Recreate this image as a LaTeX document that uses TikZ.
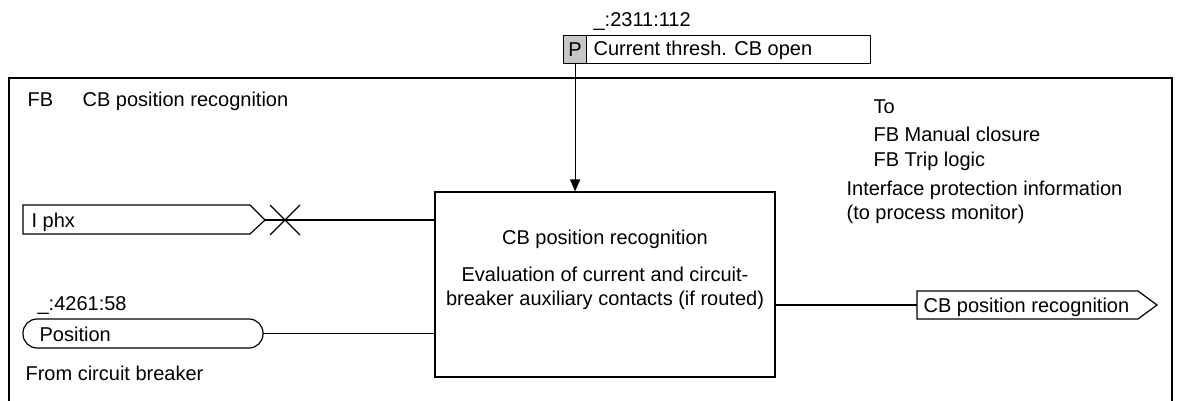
\documentclass[tikz,border=0pt]{standalone}
\usepackage{fontspec}
\setmainfont{Liberation Sans}
\usetikzlibrary{arrows.meta}
\begin{document}
\begin{tikzpicture}[x=1pt,y=-1pt, line width=1.2pt,
  txt/.style={anchor=base west, inner sep=0pt, font=\fontsize{20}{24}\selectfont},
  ctxt/.style={anchor=base, inner sep=0pt, font=\fontsize{20}{24}\selectfont},
  box/.style={draw, inner sep=0pt, anchor=north west}]
\useasboundingbox (0,0) rectangle (1178,401);
% frame
\draw (9,410) |- (1172,78) -- (1172,410);
\node[txt] (fb) at (27,107) {FB};
\node[txt] (fbname) at (82,107) {CB position recognition};
% main block
\node[draw, minimum width=340pt, minimum height=185pt, inner sep=0pt] (block) at (605,284.5) {};
\node[ctxt] (btitle) at (605,244) {CB position recognition};
\node[ctxt] (bl1) at (605,281) {Evaluation of current and circuit-};
\node[ctxt] (bl2) at (605,305) {breaker auxiliary contacts (if routed)};
% parameter
\node[txt] (paddr) at (593,27) {\_:2311:112};
\node[box, fill=black!22, minimum width=23pt, minimum height=28pt, font=\fontsize{20}{24}\selectfont] (pp) at (563,35) {P};
\node[box, minimum width=284pt, minimum height=28pt] (pbox) at (586,35) {};
\node[txt] (ptxt) at (593,56) {Current thresh. CB open};
\draw[-{Triangle[length=12pt,width=10pt]}] (pp.south) -- (pp.south |- block.north);
% I phx input
\draw (23,205) -- (250,205) -- (265,220) -- (250,234) -- (23,234) -- cycle;
\coordinate (iphx) at (265,220);
\node[txt] (iphxt) at (31,227) {I phx};
\draw (270,205) -- (300,235) (270,235) -- (300,205);
\draw (iphx) -- (iphx -| block.west);
% Position input
\node[txt] (posaddr) at (37,310) {\_:4261:58};
\draw[rounded corners=14pt] (23,319) rectangle (263,348);
\coordinate (pos) at (263,333.5);
\node[txt] (post) at (39,341) {Position};
\node[txt] (from) at (25,380) {From circuit breaker};
\draw (pos) -- (pos -| block.west);
% right texts
\node[txt] (to) at (873,114) {To};
\node[txt] (to1) at (873,142) {FB Manual closure};
\node[txt] (to2) at (873,167) {FB Trip logic};
\node[txt] (if1) at (846,195) {Interface protection information};
\node[txt] (if2) at (846,219) {(to process monitor)};
% output
\draw (917,291) -- (1138,291) -- (1157,305) -- (1138,319) -- (917,319) -- cycle;
\coordinate (out) at (917,305);
\node[txt] (outt) at (923,312) {CB position recognition};
\draw (block.east |- out) -- (out);
\end{tikzpicture}
\end{document}
